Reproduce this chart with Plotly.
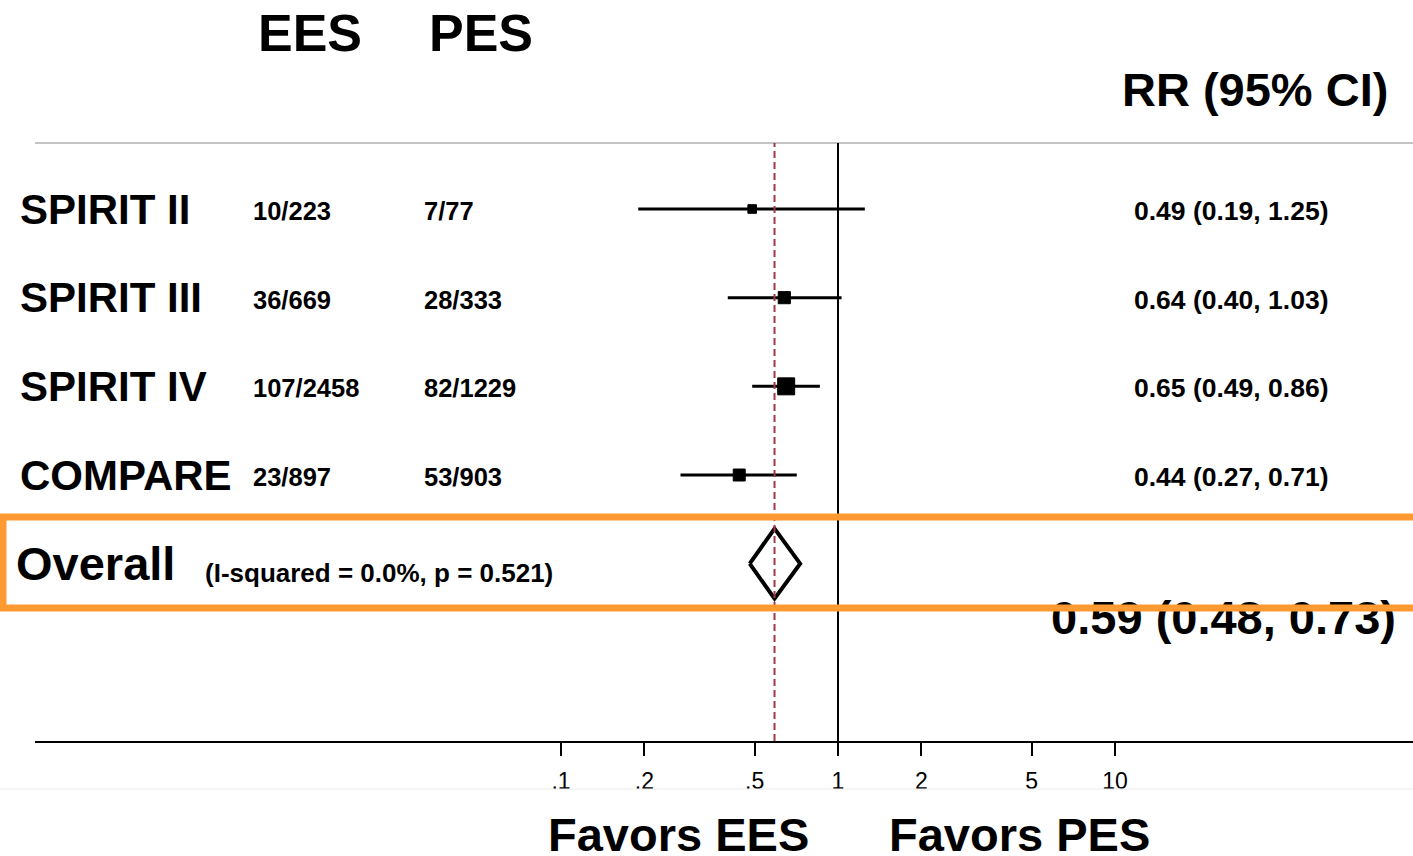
import math
import plotly.graph_objects as go

# Study-level data (risk ratios with 95% CI)
studies = ["SPIRIT II", "SPIRIT III", "SPIRIT IV", "COMPARE"]
ees_events = ["10/223", "36/669", "107/2458", "23/897"]
pes_events = ["7/77", "28/333", "82/1229", "53/903"]
rr = [0.49, 0.64, 0.65, 0.44]
rr_lo = [0.19, 0.40, 0.49, 0.27]
rr_hi = [1.25, 1.03, 0.86, 0.71]

# Pooled estimate
overall_rr = 0.59
overall_lo = 0.48
overall_hi = 0.73
heterogeneity = "(I-squared = 0.0%, p = 0.521)"

tick_vals = [0.1, 0.2, 0.5, 1, 2, 5, 10]
tick_text = [".1", ".2", ".5", "1", "2", "5", "10"]

W, H = 1413, 856
ML, MR, MT, MB = 35, 0, 143, 115
PW, PH = W - ML - MR, H - MT - MB
FONT = "Liberation Sans, Arial, Helvetica, sans-serif"

# x axis: log scale, 1 placed at 838 px, 277 px per decade
X_ONE, DECADE = 838, 277.0
x_range = [(ML - X_ONE) / DECADE, (W - MR - X_ONE) / DECADE]

# y axis: one unit per row, first row at 209 px, row pitch 88.67 px
ROW0, PITCH = 209, 88.67
y_range = [(MT + PH - ROW0) / PITCH, (MT - ROW0) / PITCH]


def px(x):
    return (x - ML) / PW


def py(y):
    return (MT + PH - y) / PH


def xval(x):
    return 10 ** ((x - X_ONE) / DECADE)


# inverse-variance weights from CI width -> box size
weights = []
for lo, hi in zip(rr_lo, rr_hi):
    se = (math.log(hi) - math.log(lo)) / 3.92
    weights.append(1 / se ** 2)
tot = sum(weights)
pct = [100 * w / tot for w in weights]
box_sizes = [5 + 1.6 * math.sqrt(p) for p in pct]

rows = list(range(len(studies)))
overall_row = len(studies)

fig = go.Figure()

# confidence intervals
ci_x, ci_y = [], []
for i in rows:
    ci_x += [rr_lo[i], rr_hi[i], None]
    ci_y += [i, i, None]
fig.add_trace(go.Scatter(
    x=ci_x, y=ci_y, mode="lines", line=dict(color="black", width=3),
    hoverinfo="skip", showlegend=False,
))

# weighted squares
fig.add_trace(go.Scatter(
    x=rr, y=rows, mode="markers",
    marker=dict(symbol="square", size=box_sizes, color="#000000",
                opacity=1, line=dict(width=1, color="#000000")),
    hoverinfo="skip", showlegend=False,
))

# pooled diamond
half_h = 35 / PITCH
fig.add_trace(go.Scatter(
    x=[overall_lo, overall_rr, overall_hi, overall_rr, overall_lo],
    y=[overall_row, overall_row - half_h, overall_row,
       overall_row + half_h, overall_row],
    mode="lines", fill="toself", fillcolor="white",
    line=dict(color="black", width=4),
    hoverinfo="skip", showlegend=False,
))

# pooled estimate text (sits under the highlight box outline)
fig.add_trace(go.Scatter(
    x=[xval(1396)], y=[overall_row + (622 - 563.7) / PITCH],
    mode="text",
    text=[f"<b>{overall_rr:.2f} ({overall_lo:.2f}, {overall_hi:.2f})</b>"],
    textposition="middle left",
    textfont=dict(family=FONT, size=47, color="black"),
    hoverinfo="skip", showlegend=False, cliponaxis=False,
))

shapes = [
    # header rule
    dict(type="line", xref="paper", yref="paper", x0=0, x1=1, y0=1, y1=1,
         line=dict(color="#c4c4c4", width=2), layer="below"),
    # faint rule below tick labels
    dict(type="line", xref="paper", yref="paper", x0=px(0), x1=1,
         y0=py(789), y1=py(789), line=dict(color="#ececec", width=1)),
    # null line
    dict(type="line", xref="x", yref="paper", x0=1, x1=1, y0=0, y1=1,
         line=dict(color="black", width=2)),
    # pooled estimate line
    dict(type="line", xref="x", yref="paper", x0=overall_rr, x1=overall_rr,
         y0=0, y1=1, line=dict(color="#9e3a45", width=2, dash="7px,4px")),
    # highlight box around the overall row
    dict(type="rect", xref="paper", yref="paper", x0=px(3), x1=px(1430),
         y0=py(608), y1=py(517), line=dict(color="#ff9a33", width=7),
         fillcolor="rgba(0,0,0,0)", layer="above"),
]

ann = []


def text(x, y, s, size, xanchor="left", yref="paper", yanchor="middle"):
    ann.append(dict(
        x=x, y=y, xref="paper", yref=yref, text=f"<b>{s}</b>",
        showarrow=False, xanchor=xanchor, yanchor=yanchor,
        font=dict(family=FONT, size=size, color="black"),
    ))


# column headers
text(px(310), py(33), "EES", 52, "center")
text(px(481), py(33), "PES", 52, "center")
text(px(1390), py(89), "RR (95% CI)", 47, "right")

# study rows
for i, name in enumerate(studies):
    text(px(18), i, name, 42, yref="y")
    text(px(251), i + 2 / PITCH, ees_events[i], 25.5, yref="y")
    text(px(422), i + 2 / PITCH, pes_events[i], 25.5, yref="y")
    text(px(1132), i + 2 / PITCH,
         f"{rr[i]:.2f} ({rr_lo[i]:.2f}, {rr_hi[i]:.2f})", 26.5, yref="y")

# overall row
text(px(14), overall_row, "Overall", 47, yref="y")
text(px(203), overall_row + 9 / PITCH, heterogeneity, 26, yref="y")

# direction labels
text(px(546), py(834), "Favors EES", 47)
text(px(887), py(834), "Favors PES", 47)

fig.update_layout(
    width=W, height=H,
    margin=dict(l=ML, r=MR, t=MT, b=MB, pad=0),
    paper_bgcolor="white", plot_bgcolor="white",
    shapes=shapes, annotations=ann,
    xaxis=dict(type="log", range=x_range, tickvals=tick_vals,
               ticktext=tick_text, ticks="outside", ticklen=13, tickwidth=2,
               tickcolor="black", showline=True, linecolor="black",
               linewidth=2, showgrid=False, zeroline=False,
               ticklabelstandoff=5,
               tickfont=dict(family=FONT, size=23, color="black")),
    yaxis=dict(range=y_range, showticklabels=False, showgrid=False,
               zeroline=False, showline=False, ticks=""),
    showlegend=False,
)

fig.write_html("out.html")
